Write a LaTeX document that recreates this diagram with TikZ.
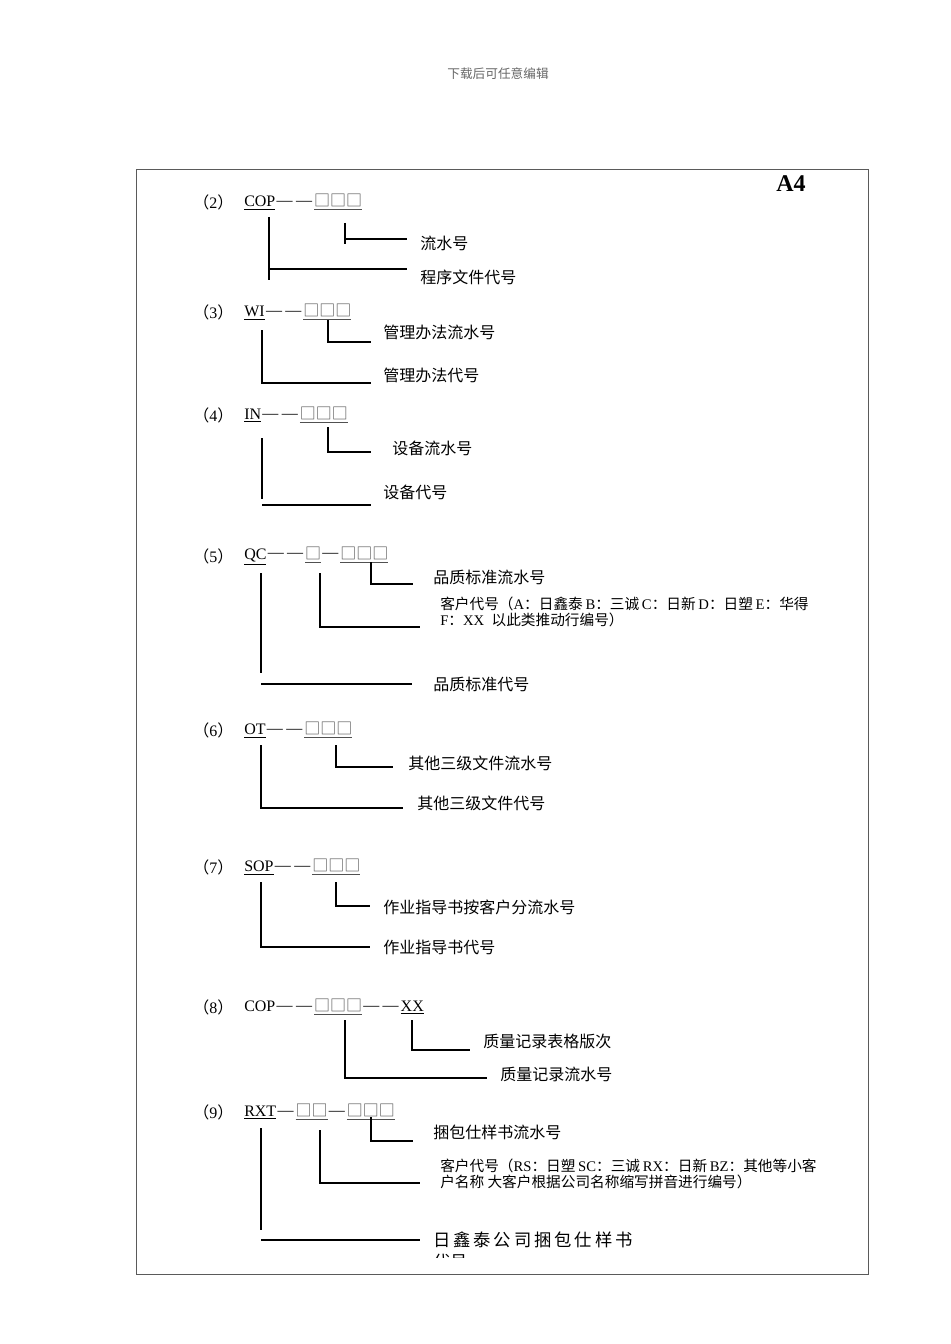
\documentclass[tikz,border=0pt]{standalone}
\usepackage{fontspec}
\setmainfont{Liberation Serif}
\newfontfamily\cjk{Noto Sans CJK SC}
\usepackage{tikz}

\definecolor{boxgray}{RGB}{80,80,80}
\definecolor{framegray}{RGB}{90,90,90}
\newcommand{\bx}[1]{{\color{boxgray}\underline{\cjk #1}}}
\newcommand{\dd}[1]{{\cjk #1}}
\newcommand{\dsh}{\kern1pt\raisebox{1.3pt}{—}\kern1.5pt}

\tikzset{
  tag/.style={anchor=west,inner sep=0pt,font=\fontsize{12}{14}\selectfont},
  lbl/.style={anchor=west,inner sep=0pt,font=\cjk\fontsize{12}{14}\selectfont},
  note/.style={anchor=west,inner sep=0pt,align=left,font=\fontsize{11}{12.5}\selectfont},
  wire/.style={line width=0.8pt}
}

\begin{document}
\begin{tikzpicture}[x=0.75pt,y=-0.75pt]
\useasboundingbox (0,0) rectangle (950,1344);
\node[inner sep=0pt,text=gray!80!black,font=\cjk\fontsize{9.5}{11}\selectfont] (top) at (498,74) {下载后可任意编辑};
\draw[framegray,line width=0.75pt] (136,170) rectangle (868,1274);
\node[inner sep=0pt,font=\bfseries\fontsize{18}{20}\selectfont] (a4) at (791,184) {A4};

% (2)
\node[tag] (n2) at (193,202) {\dd{（}2\dd{）}};
\node[tag] (c2) at (244,202) {\underline{COP}\dsh\dsh\bx{□□□}};
\node[lbl] (l2a) at (420,243) {流水号};
\node[lbl] (l2b) at (420,277) {程序文件代号};
\coordinate (s2) at (345,223); \coordinate (s2e) at (407,239);
\coordinate (t2) at (269,217); \coordinate (t2e) at (407,269);
\draw[wire] (s2) -- ++(0,21);
\draw[wire] (s2 |- s2e) -- (s2e);
\draw[wire] (t2) -- ++(0,63);
\draw[wire] (t2 |- t2e) -- (t2e);

% (3)
\node[tag] (n3) at (193,312) {\dd{（}3\dd{）}};
\node[tag] (c3) at (244,312) {\underline{WI}\dsh\dsh\bx{□□□}};
\node[lbl] (l3a) at (383,332) {管理办法流水号};
\node[lbl] (l3b) at (383,375) {管理办法代号};
\coordinate (s3) at (328,320); \coordinate (s3e) at (371,342);
\coordinate (t3) at (262,330); \coordinate (t3e) at (371,383);
\draw[wire] (s3) |- (s3e);
\draw[wire] (t3) |- (t3e);

% (4)
\node[tag] (n4) at (193,415) {\dd{（}4\dd{）}};
\node[tag] (c4) at (244,415) {\underline{IN}\dsh\dsh\bx{□□□}};
\node[lbl] (l4a) at (392,448) {设备流水号};
\node[lbl] (l4b) at (383,492) {设备代号};
\coordinate (s4) at (328,427); \coordinate (s4e) at (371,452);
\coordinate (t4) at (262,438); \coordinate (t4e) at (371,505);
\draw[wire] (s4) |- (s4e);
\draw[wire] (t4) -- ++(0,61);
\draw[wire] (t4 |- t4e) -- (t4e);

% (5)
\node[tag] (n5) at (193,556) {\dd{（}5\dd{）}};
\node[tag] (c5) at (244,556) {\underline{QC}\dsh\dsh\bx{□}\dsh\bx{□□□}};
\node[lbl] (l5a) at (433,577) {品质标准流水号};
\node[note] (l5b) at (440,612) {\dd{客户代号（}A\dd{：日鑫泰}\kern2pt B\dd{：三诚}\kern2pt C\dd{：日新}\kern2pt D\dd{：日塑}\kern2pt E\dd{：华得}\\F\dd{：}XX\ \ \dd{以此类推动行编号）}};
\node[lbl] (l5c) at (433,684) {品质标准代号};
\coordinate (s5) at (371,562); \coordinate (s5e) at (413,584);
\coordinate (m5) at (320,573); \coordinate (m5e) at (420,627);
\coordinate (t5) at (261,573); \coordinate (t5e) at (412,684);
\draw[wire] (s5) |- (s5e);
\draw[wire] (m5) |- (m5e);
\draw[wire] (t5) -- ++(0,100);
\draw[wire] (t5 |- t5e) -- (t5e);

% (6)
\node[tag] (n6) at (193,730) {\dd{（}6\dd{）}};
\node[tag] (c6) at (244,730) {\underline{OT}\dsh\dsh\bx{□□□}};
\node[lbl] (l6a) at (408,763) {其他三级文件流水号};
\node[lbl] (l6b) at (417,803) {其他三级文件代号};
\coordinate (s6) at (336,745); \coordinate (s6e) at (393,767);
\coordinate (t6) at (261,745); \coordinate (t6e) at (403,808);
\draw[wire] (s6) |- (s6e);
\draw[wire] (t6) |- (t6e);

% (7)
\node[tag] (n7) at (193,867) {\dd{（}7\dd{）}};
\node[tag] (c7) at (244,867) {\underline{SOP}\dsh\dsh\bx{□□□}};
\node[lbl] (l7a) at (383,907) {作业指导书按客户分流水号};
\node[lbl] (l7b) at (383,947) {作业指导书代号};
\coordinate (s7) at (336,882); \coordinate (s7e) at (370,906);
\coordinate (t7) at (261,882); \coordinate (t7e) at (370,947);
\draw[wire] (s7) |- (s7e);
\draw[wire] (t7) |- (t7e);

% (8)
\node[tag] (n8) at (193,1007) {\dd{（}8\dd{）}};
\node[tag] (c8) at (244,1007) {COP\dsh\dsh\bx{□□□}\dsh\dsh\underline{XX}};
\node[lbl] (l8a) at (483,1041) {质量记录表格版次};
\node[lbl] (l8b) at (500,1074) {质量记录流水号};
\coordinate (s8) at (412,1020); \coordinate (s8e) at (470,1050);
\coordinate (t8) at (345,1020); \coordinate (t8e) at (487,1078);
\draw[wire] (s8) |- (s8e);
\draw[wire] (t8) |- (t8e);

% (9)
\node[tag] (n9) at (193,1112) {\dd{（}9\dd{）}};
\node[tag] (c9) at (244,1112) {\underline{RXT}\dsh\bx{□□}\dsh\bx{□□□}};
\node[lbl] (l9a) at (433,1132) {捆包仕样书流水号};
\node[note] (l9b) at (440,1174) {\dd{客户代号（}RS\dd{：日塑}\kern2pt SC\dd{：三诚}\kern2pt RX\dd{：日新}\kern2pt BZ\dd{：其他等小客}\\\dd{户名称\ 大客户根据公司名称缩写拼音进行编号）}};
\begin{scope}
  \clip (420,1225) rectangle (700,1257);
  \node[lbl,font=\cjk\fontsize{13}{16.5}\selectfont,align=left] (l9c) at (433,1251) {日\,鑫\,泰\,公\,司\,捆\,包\,仕\,样\,书\\代号};
\end{scope}
\coordinate (s9) at (371,1117); \coordinate (s9e) at (413,1141);
\coordinate (m9) at (320,1130); \coordinate (m9e) at (420,1183);
\coordinate (t9) at (261,1128); \coordinate (t9e) at (420,1240);
\draw[wire] (s9) |- (s9e);
\draw[wire] (m9) |- (m9e);
\draw[wire] (t9) -- ++(0,102);
\draw[wire] (t9 |- t9e) -- (t9e);
\end{tikzpicture}
\end{document}
